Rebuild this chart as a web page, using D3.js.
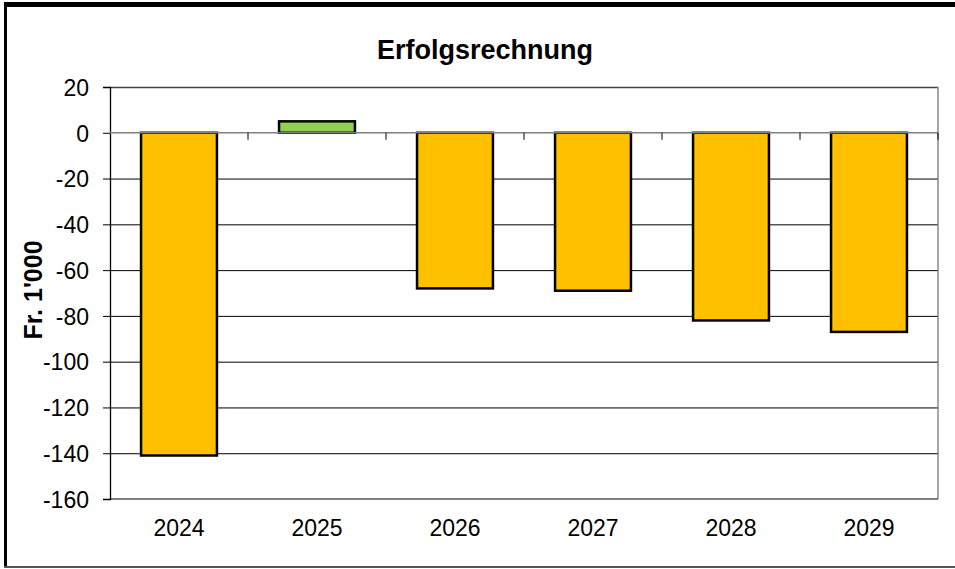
<!DOCTYPE html>
<html>
<head>
<meta charset="utf-8">
<script src="https://cdn.jsdelivr.net/npm/d3@7/dist/d3.min.js"></script>
<style>
html,body{margin:0;padding:0;background:#fff;}
svg{display:block;}
text{font-family:"Liberation Sans",Arial,sans-serif;fill:#000;}
</style>
</head>
<body>
<svg id="chart" width="955" height="569"></svg>
<script>
const categories = ["2024","2025","2026","2027","2028","2029"];
const values = [-141, 5, -68, -69, -82, -87];
const yTicks = [20, 0, -20, -40, -60, -80, -100, -120, -140, -160];
const titleText = "Erfolgsrechnung";
const yLabel = "Fr. 1'000";

const svg = d3.select("#chart");
const W = 955, H = 569;
const m = {left:110, right:955-938, top:87, bottom:569-499};
const iw = W - m.left - m.right, ih = H - m.top - m.bottom;

// outer frame (cropped at right)
svg.append("line").attr("x1",4).attr("x2",W).attr("y1",4.5).attr("y2",4.5).attr("stroke","#000").attr("stroke-width",5);
svg.append("line").attr("x1",5.5).attr("x2",5.5).attr("y1",2).attr("y2",568).attr("stroke","#000").attr("stroke-width",3);
svg.append("line").attr("x1",4).attr("x2",W).attr("y1",567).attr("y2",567).attr("stroke","#555").attr("stroke-width",2);

const g = svg.append("g").attr("transform",`translate(${m.left},${m.top})`);

const x = d3.scaleBand().domain(categories).range([0, iw]).paddingInner(0.45).paddingOuter(0.225);
const xc = d3.scaleBand().domain(categories).range([0, iw]);
const y = d3.scaleLinear().domain([-160, 20]).range([ih, 0]);

// gridlines
g.append("g").selectAll("line").data(yTicks.filter(d=>d!==0 && d!==-160 && d!==20)).join("line")
  .attr("x1",0).attr("x2",iw).attr("y1",d=>y(d)+0.5).attr("y2",d=>y(d)+0.5)
  .attr("stroke","#000").attr("stroke-width",1);

// plot border top/right/bottom
g.append("line").attr("x1",0).attr("x2",iw).attr("y1",0.5).attr("y2",0.5).attr("stroke","#444").attr("stroke-width",1.3);
g.append("line").attr("x1",iw).attr("x2",iw).attr("y1",0).attr("y2",ih).attr("stroke","#777").attr("stroke-width",1.3);
g.append("line").attr("x1",0).attr("x2",iw).attr("y1",ih).attr("y2",ih).attr("stroke","#555").attr("stroke-width",1.5);

// y axis
const yAxis = d3.axisLeft(y).tickValues(yTicks).tickSize(7).tickPadding(14).tickFormat(d=>String(d));
const ya = g.append("g").call(yAxis);
ya.select(".domain").attr("stroke","#000").attr("stroke-width",1.3);
ya.selectAll(".tick line").attr("stroke","#000");
ya.selectAll(".tick text").attr("font-size","23px").attr("font-family","Liberation Sans, Arial, sans-serif").attr("fill","#000").attr("dy","0.36em").attr("y",0);

// bars
g.append("g").selectAll("rect").data(categories.map((c,i)=>({c, v:values[i]}))).join("rect")
  .attr("x",d=>x(d.c))
  .attr("width",x.bandwidth())
  .attr("y",d=>y(Math.max(0,d.v)))
  .attr("height",d=>Math.abs(y(d.v)-y(0)))
  .attr("fill",d=>d.v>=0?"#92D050":"#FFC000")
  .attr("stroke","#000").attr("stroke-width",2.5);

// zero line with category ticks
g.append("line").attr("x1",0).attr("x2",iw).attr("y1",y(0)).attr("y2",y(0)).attr("stroke","#808080").attr("stroke-width",1.5);
g.append("g").selectAll("line").data(categories.slice(1)).join("line")
  .attr("x1",d=>xc(d)).attr("x2",d=>xc(d)).attr("y1",y(0)).attr("y2",y(0)+7)
  .attr("stroke","#000").attr("stroke-width",1);
g.append("line").attr("x1",iw).attr("x2",iw).attr("y1",y(0)).attr("y2",y(0)+7).attr("stroke","#000");

// x labels at bottom
const xa = g.append("g").attr("transform",`translate(0,${ih})`).call(d3.axisBottom(xc).tickSize(0).tickPadding(21));
xa.select(".domain").remove();
xa.selectAll(".tick text").attr("font-size","23px").attr("font-family","Liberation Sans, Arial, sans-serif").attr("fill","#000");

// title
svg.append("text").attr("x",485).attr("y",59).attr("text-anchor","middle")
  .attr("font-size","27px").attr("font-weight","bold").text(titleText);

// y label
svg.append("text").attr("transform","translate(42,290) rotate(-90)").attr("text-anchor","middle")
  .attr("font-size","25px").attr("font-weight","bold").text(yLabel);
</script>
</body>
</html>
